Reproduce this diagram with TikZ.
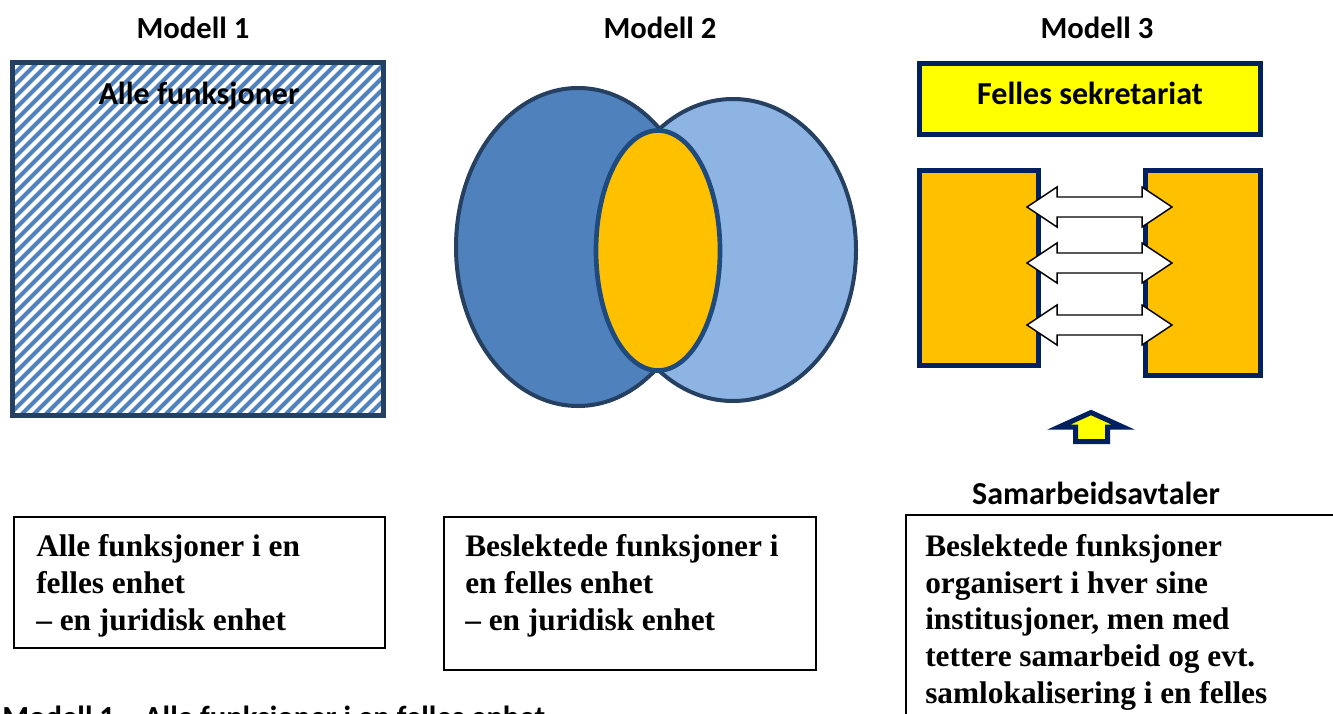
\documentclass[tikz,border=0pt]{standalone}
\usepackage{fontspec}
\setmainfont{Liberation Serif}
\newfontfamily\calibri{Carlito}
\definecolor{navyA}{RGB}{38,64,98}
\definecolor{navyB}{RGB}{30,74,125}
\definecolor{navyC}{RGB}{0,32,96}
\definecolor{stripeblue}{RGB}{79,129,189}
\definecolor{lightblue}{RGB}{142,180,227}
\definecolor{midblue}{RGB}{79,129,189}
\definecolor{orangeF}{RGB}{255,192,0}
\definecolor{yellowF}{RGB}{255,255,0}
\begin{document}
\begin{tikzpicture}[x=0.75pt,y=-0.75pt,
  title/.style={font=\calibri\bfseries\fontsize{23}{27}\selectfont, inner sep=0pt, anchor=base},
  label/.style={font=\calibri\bfseries\fontsize{24}{28}\selectfont, inner sep=0pt, anchor=base},
  bodytext/.style={font=\bfseries\fontsize{23.5}{27.4}\selectfont, align=left, inner sep=0pt, anchor=base west},
  stripe/.style={stripeblue, line width=3pt},
  venn/.style={draw=navyA, line width=3pt},
  m3box/.style={draw=navyC, line width=3.75pt},
  dblarrow/.style={draw=black, fill=white, line width=1.1pt, line join=miter},
  textbox/.style={draw=black, line width=1.1pt}]
\useasboundingbox (0,0) rectangle (1333,713);
\clip (0,0) rectangle (1333,713);

% titles
\node[title] (t1) at (193,39) {Modell 1};
\node[title] (t2) at (660,39) {Modell 2};
\node[title] (t3) at (1097,39) {Modell 3};

% Model 1 striped square
\begin{scope}
  \clip (12.5,62.5) rectangle (383.5,415.5);
  \foreach \i in {-31,...,33} {
    \draw[stripe] (\i*12+4,420) -- ++(360,-360);
  }
\end{scope}
\draw[draw=navyA, line width=3.75pt] (12.5,62.5) rectangle (383.5,415.5);
\node[label] (m1lab) at (199,105) {Alle funksjoner};

% Model 2 Venn
\draw[venn, fill=midblue] (578,247) ellipse [x radius=122, y radius=159];
\draw[venn, fill=lightblue] (733,250) ellipse [x radius=123, y radius=151];
\draw[draw=navyB, line width=3.5pt, fill=orangeF] (658,250.5) ellipse [x radius=62, y radius=120];

% Model 3
\draw[m3box, fill=yellowF] (919.5,63.5) rectangle (1260.5,134.5);
\node[label] (sek) at (1090,105) {Felles sekretariat};
\draw[m3box, fill=orangeF] (919.5,170.5) rectangle (1038.5,365.5);
\draw[m3box, fill=orangeF] (1145.5,170.5) rectangle (1260.5,375.5);
\foreach \c in {207,263,325} {
  \draw[dblarrow] (1027,\c) -- (1057,\c-20) -- (1057,\c-10) -- (1142,\c-10) -- (1142,\c-20)
    -- (1172,\c) -- (1142,\c+20) -- (1142,\c+10) -- (1057,\c+10) -- (1057,\c+20) -- cycle;
}
% small up arrow
\draw[draw=navyC, line width=3.75pt, fill=yellowF, line join=miter]
  (1091,412.5) -- (1123,427) -- (1107.5,427) -- (1107.5,441.5) -- (1075.5,441.5)
  -- (1075.5,427) -- (1059,427) -- cycle;
\node[label] (sam) at (1096,504) {Samarbeidsavtaler};

% text boxes (base anchor = baseline of the last line)
\draw[textbox] (14,517) rectangle (385,648);
\node[bodytext] (b1) at (36,630) {Alle funksjoner i en\\felles enhet\\– en juridisk enhet};
\draw[textbox] (444,517) rectangle (816,670);
\node[bodytext] (b2) at (465,630) {Beslektede funksjoner i\\en felles enhet\\– en juridisk enhet};
\draw[textbox] (906,515) rectangle (1345,730);
\node[bodytext] (b3) at (925,703) {Beslektede funksjoner\\organisert i hver sine\\institusjoner, men med\\tettere samarbeid og evt.\\samlokalisering i en felles};

% caption at bottom (cut by the lower edge, as in the reference)
\node[title, anchor=base west] (cap) at (2,727) {Modell 1 – Alle funksjoner i en felles enhet};
\end{tikzpicture}
\end{document}
